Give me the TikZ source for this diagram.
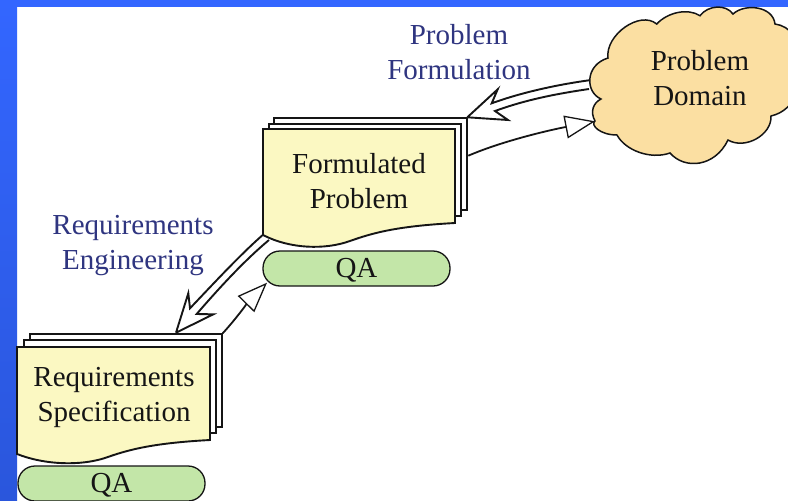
\documentclass[tikz,border=0pt]{standalone}
\usepackage{fontspec}
\setmainfont{Liberation Serif}
\usetikzlibrary{arrows.meta}
\definecolor{bgblue}{HTML}{3366FF}
\definecolor{bgblueb}{HTML}{2A56DC}
\definecolor{docfill}{HTML}{FBF8C2}
\definecolor{qafill}{HTML}{C3E6A8}
\definecolor{cloudfill}{HTML}{FBDFA2}
\definecolor{lblblue}{HTML}{2F3580}
\definecolor{ink}{HTML}{151515}
\tikzset{
  x=1pt,y=-1pt,
  outl/.style={draw=ink,line width=1.9pt,line join=miter},
  page/.style={outl,fill=white},
  front/.style={outl,fill=docfill},
  txt/.style={font=\fontsize{29}{35}\selectfont,text=ink,align=center,inner sep=0pt},
  lbl/.style={font=\fontsize{29}{35}\selectfont,text=lblblue,align=center,inner sep=0pt},
  qa/.style={draw=ink,line width=1.3pt,fill=qafill,rounded corners=17pt,minimum width=187pt,minimum height=35pt,inner sep=0pt,text depth=2pt,font=\fontsize{29}{35}\selectfont,text=ink},
  conn/.style={draw=ink,line width=1.8pt},
  openhead/.style={-{Triangle[open,fill=white,length=30pt,width=23pt,line width=1.3pt]}},
  hollow/.style={draw=ink,line width=1.9pt,fill=white,line join=miter},
}
\begin{document}
\begin{tikzpicture}
\useasboundingbox (0,0) rectangle (788,501);
\fill[white] (0,0) rectangle (788,501);
\shade[top color=bgblue,bottom color=bgblueb] (0,0) rectangle (17,501);
\fill[bgblue] (0,0) rectangle (788,7);

% formulated problem pages
\draw[page] (274,118) rectangle (467,210);
\draw[page] (269,124) rectangle (461,216);
\draw[front] (263,129) -- (455,129) -- (455,223)
  .. controls (400,226) and (375,232) .. (350,241)
  .. controls (325,250) and (290,249) .. (263,235) -- cycle;
\node[txt] (fp) at (359,181) {Formulated\\Problem};
\node[qa] (qa1) at (356.5,268.5) {QA};

% requirements specification pages
\draw[page] (30,334) rectangle (222,427);
\draw[page] (24,340) rectangle (216,433);
\draw[front] (17,347) -- (210,347) -- (210,440)
  .. controls (155,443) and (130,449) .. (105,458)
  .. controls (80,466) and (45,465) .. (17,454) -- cycle;
\node[txt] (rs) at (114,394) [yshift=-3pt] {Requirements\\Specification};
\node[qa] (qa2) at (111.5,483.5) {QA};

% cloud
\draw[outl,fill=cloudfill,line width=1.5pt] (656.7,24)
  .. controls (668,12) and (688,8) .. (700,15.7)
  .. controls (708,5) and (726,4) .. (733,14)
  .. controls (745,3) and (773,6) .. (775,24)
  .. controls (790,26) and (802,40) .. (797,60)
  .. controls (805,80) and (797,110) .. (771,116)
  .. controls (772,135) and (745,150) .. (728,140)
  .. controls (715,167) and (685,170) .. (670,153)
  .. controls (650,160) and (625,150) .. (617,135)
  .. controls (600,135) and (590,125) .. (595,121)
  .. controls (590,112) and (593,103) .. (601,99)
  .. controls (585,92) and (585,65) .. (608,58)
  .. controls (605,35) and (640,10) .. (656.7,24) -- cycle;
\node[txt] (pd) at (700,78.5) {Problem\\Domain};

% labels
\node[lbl] (pf) at (459,52.5) {Problem\\Formulation};
\node[lbl] (re) at (133,243.5) [yshift=-2.5pt] {Requirements\\Engineering};

% hollow double arrows
\coordinate (a1tip) at (467.3,117.3);
\coordinate (a1top) at (497.7,89.3);
\coordinate (a1in) at (491.7,103.3);
\coordinate (a1u) at (589,80.3);
\coordinate (a1l) at (589,89);
\coordinate (a1li) at (495,111);
\coordinate (a1bot) at (508,120);
\draw[hollow] (a1tip) -- (a1top) -- (a1in) .. controls (520,93) and (555,85) .. (a1u)
  (a1l) .. controls (555,94) and (525,100) .. (a1li) -- (a1bot) -- (a1tip);
\coordinate (a2tip) at (176,332.7);
\coordinate (a2top) at (188.3,293.3);
\coordinate (a2in) at (190,308.3);
\coordinate (a2u) at (262.7,235);
\coordinate (a2l) at (269,240);
\coordinate (a2li) at (196.7,314);
\coordinate (a2bot) at (213.3,314.3);
\draw[hollow] (a2tip) -- (a2top) -- (a2in) .. controls (215,282) and (240,255) .. (a2u)
  (a2l) .. controls (245,260) and (220,287) .. (a2li) -- (a2bot) -- (a2tip);

% open-head arrows
\coordinate (b1s) at (468.3,155.7);
\coordinate (b1e) at (595,121.3);
\draw[conn,openhead] (b1s) .. controls (500,142) and (545,131) .. (b1e);
\coordinate (b2s) at (222.7,333.3);
\coordinate (b2e) at (267,282.7);
\draw[conn,openhead] (b2s) .. controls (235,320) and (250,300) .. (b2e);
\end{tikzpicture}
\end{document}
